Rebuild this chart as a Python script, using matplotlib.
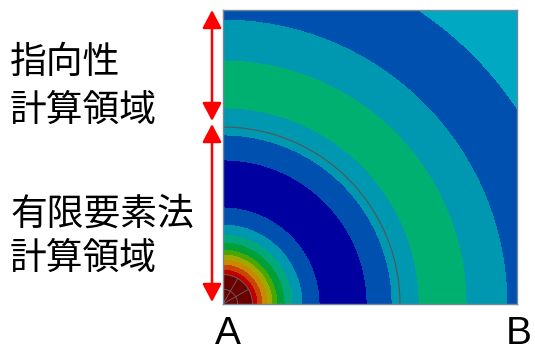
import numpy as np
import matplotlib.pyplot as plt

plt.rcParams['font.family'] = ['Noto Sans CJK JP', 'DejaVu Sans']

# contour bands: outer radius of each band (side AB = 1), and band colours
band_edges = [0.102, 0.119, 0.136, 0.153, 0.170, 0.187, 0.211, 0.238, 0.272,
              0.330, 0.490, 0.575, 0.667, 0.830, 0.969, 1.201, 2.0]
band_colors = ['#6a0000', '#c00000', '#c84400', '#c88800', '#a0a800', '#48a800',
               '#00a038', '#00a87c', '#0098b0', '#0050b0', '#0000a0', '#0050b0',
               '#0098b0', '#00b070', '#0098b0', '#0050b0', '#00a8c2']
fe_boundary = 0.602   # border of the FEM region
mesh_r = [0.05, 0.1]  # small mesh arcs near the source

labels_top = ["指向性", "計算領域"]
labels_bottom = ["有限要素法", "計算領域"]

fig = plt.figure(figsize=(5.35, 3.52), dpi=100)
ax = fig.add_axes([223/535, 48/352, 294/535, 294/352])

n = 700
x = np.linspace(0, 1, n)
X, Y = np.meshgrid(x, x)
R = np.hypot(X, Y)
ax.contourf(X, Y, R, levels=[0] + band_edges, colors=band_colors)

t = np.linspace(0, np.pi/2, 200)
ax.plot(fe_boundary*np.cos(t), fe_boundary*np.sin(t), color='#555555', lw=0.8)
for r in mesh_r:
    ax.plot(r*np.cos(t), r*np.sin(t), color='#666666', lw=0.6)
for a in [np.pi/6, np.pi/3]:
    ax.plot([0, mesh_r[-1]*np.cos(a)], [0, mesh_r[-1]*np.sin(a)], color='#666666', lw=0.6)

ax.set_xlim(0, 1)
ax.set_ylim(0, 1)
ax.set_xticks([])
ax.set_yticks([])
for s in ax.spines.values():
    s.set_color('#7a8896')
    s.set_linewidth(1)

# overlay in pixel coordinates for arrows and labels
ov = fig.add_axes([0, 0, 1, 1])
ov.set_xlim(0, 535)
ov.set_ylim(352, 0)
ov.axis('off')
ov.patch.set_alpha(0)

arr = dict(arrowstyle='<|-|>,head_length=1.1,head_width=0.58', color='#ff0000',
           lw=1.8, shrinkA=0, shrinkB=0, mutation_scale=10)
ov.annotate('', xy=(212, 10), xytext=(212, 121), arrowprops=arr)
ov.annotate('', xy=(212, 124), xytext=(212, 302), arrowprops=arr)

ov.text(10, 62, labels_top[0], fontsize=26.5, va='center', ha='left')
ov.text(10, 110, labels_top[1], fontsize=26.5, va='center', ha='left')
ov.text(10, 214, labels_bottom[0], fontsize=26.5, va='center', ha='left')
ov.text(10, 258, labels_bottom[1], fontsize=26.5, va='center', ha='left')

ov.text(228, 351.5, "A", fontsize=28, family='Liberation Sans', ha='center', va='bottom')
ov.text(519, 351.5, "B", fontsize=28, family='Liberation Sans', ha='center', va='bottom')

plt.savefig("out.png")
